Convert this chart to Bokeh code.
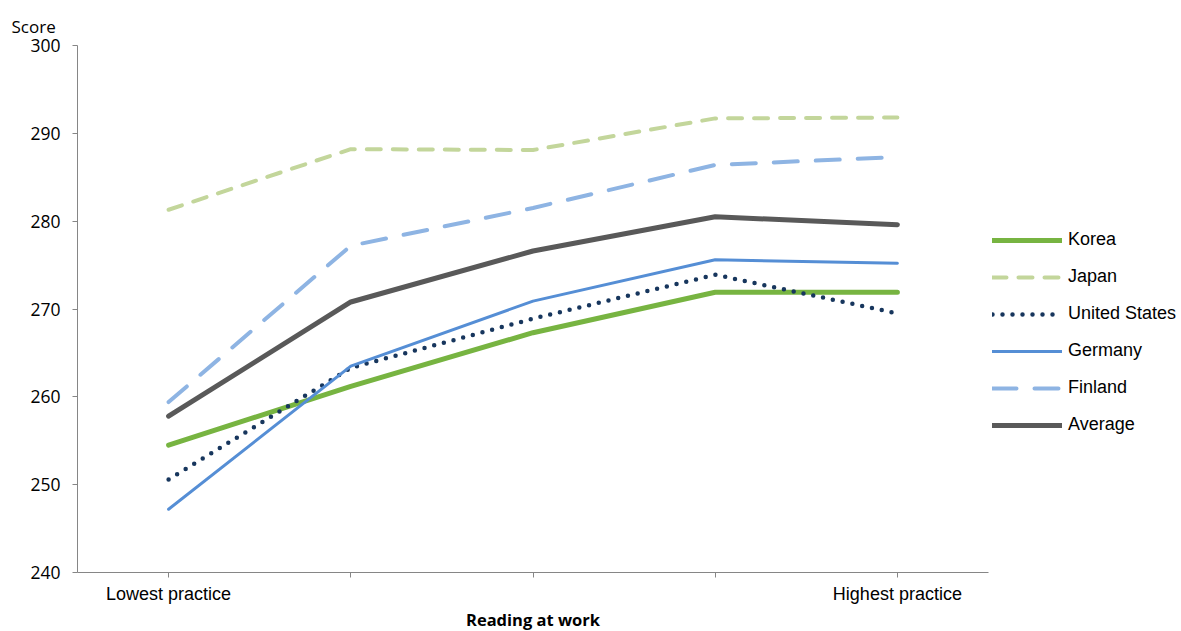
from bokeh.plotting import figure
from bokeh.models import FixedTicker, Legend, LegendItem, Range1d
from bokeh.embed import file_html
from bokeh.resources import INLINE

categories = ["Lowest practice", "", "", "", "Highest practice"]
x_idx = [0, 1, 2, 3, 4]
korea = [254.5, 261.2, 267.3, 271.9, 271.9]
japan = [281.3, 288.2, 288.1, 291.7, 291.8]
united_states = [250.6, 263.3, 268.9, 273.9, 269.5]
germany = [247.2, 263.5, 270.9, 275.6, 275.2]
finland = [259.4, 277.2, 281.5, 286.4, 287.3]
average = [257.8, 270.8, 276.6, 280.5, 279.6]
y_ticks = [240, 250, 260, 270, 280, 290, 300]

p = figure(frame_width=911, frame_height=527, output_backend="svg", toolbar_location=None,
           x_range=Range1d(-0.5, 4.5), y_range=Range1d(240, 300),
           min_border_left=77, min_border_top=45, min_border_bottom=54, min_border_right=185,
           title="Score")
p.outline_line_color = None
p.grid.visible = False
p.background_fill_color = "white"

p.title.align = "left"
p.title.offset = -66
p.title.text_font = "Open Sans"
p.title.text_font_style = "normal"
p.title.text_font_size = "17px"
p.title.text_color = "black"
p.title.standoff = 15

axis_color = "#868686"
p.xaxis.ticker = FixedTicker(ticks=x_idx)
p.xaxis.major_label_overrides = {i: c for i, c in zip(x_idx, categories)}
p.xaxis.axis_line_color = axis_color
p.xaxis.major_tick_line_color = axis_color
p.xaxis.major_tick_out = 5
p.xaxis.major_tick_in = 0
p.xaxis.minor_tick_line_color = None
p.xaxis.major_label_text_font = "Liberation Sans"
p.xaxis.major_label_text_font_size = "18px"
p.xaxis.major_label_text_color = "black"
p.xaxis.major_label_standoff = 6
p.xaxis.axis_label = "Reading at work"
p.xaxis.axis_label_text_font = "Open Sans"
p.xaxis.axis_label_text_font_style = "bold"
p.xaxis.axis_label_text_font_size = "16.5px"
p.xaxis.axis_label_text_color = "black"
p.xaxis.axis_label_standoff = 1

p.yaxis.ticker = FixedTicker(ticks=y_ticks)
p.yaxis.axis_line_color = axis_color
p.yaxis.major_tick_line_color = axis_color
p.yaxis.major_tick_out = 5
p.yaxis.major_tick_in = 0
p.yaxis.minor_tick_line_color = None
p.yaxis.major_label_text_font = "Open Sans"
p.yaxis.major_label_text_font_size = "17.5px"
p.yaxis.major_label_text_color = "black"
p.yaxis.major_label_standoff = 12

r_korea = p.line(x_idx, korea, line_color="#77B441", line_width=5, line_cap="round")
r_japan = p.line(x_idx, japan, line_color="#C3D69B", line_width=4, line_dash="14 12", line_cap="round")
r_us = p.line(x_idx, united_states, line_color="#17365D", line_width=4.5, line_dash="0 10", line_cap="round")
r_germany = p.line(x_idx, germany, line_color="#558ED5", line_width=3, line_cap="round")
r_finland = p.line(x_idx, finland, line_color="#8EB4E3", line_width=4, line_dash="24 18", line_cap="round")
r_avg = p.line(x_idx, average, line_color="#595959", line_width=5, line_cap="round")

legend = Legend(items=[
    LegendItem(label="Korea", renderers=[r_korea]),
    LegendItem(label="Japan", renderers=[r_japan]),
    LegendItem(label="United States", renderers=[r_us]),
    LegendItem(label="Germany", renderers=[r_germany]),
    LegendItem(label="Finland", renderers=[r_finland]),
    LegendItem(label="Average", renderers=[r_avg]),
], location=(4, 137))
legend.border_line_color = None
legend.background_fill_alpha = 0
legend.padding = 0
legend.margin = 0
legend.glyph_width = 70
legend.glyph_height = 20
legend.spacing = 16
legend.label_standoff = 6
legend.label_text_font = "Liberation Sans"
legend.label_text_font_size = "18px"
legend.label_text_color = "black"
p.add_layout(legend, "right")

open("out.html", "w").write(file_html(p, INLINE))
